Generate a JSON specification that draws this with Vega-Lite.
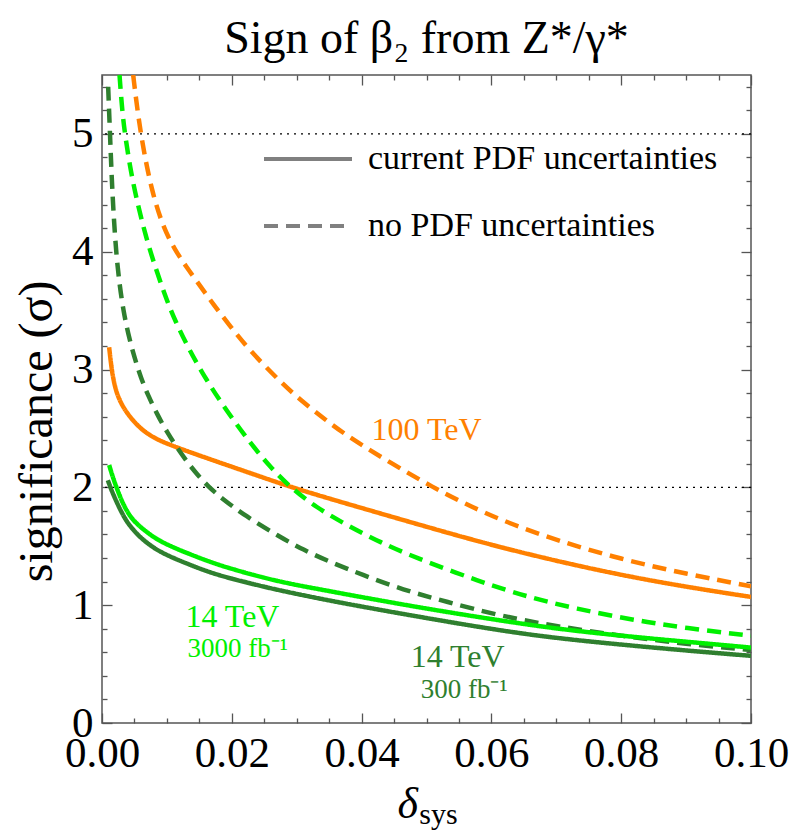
{
  "$schema": "https://vega.github.io/schema/vega-lite/v6.json",
  "width": 649,
  "height": 648,
  "autosize": {"type": "none"},
  "padding": {"left": 102, "top": 75, "right": 44, "bottom": 113},
  "background": "white",
  "config": {
    "font": "Liberation Serif",
    "view": {"stroke": "#555555", "strokeWidth": 1.5},
    "axis": {
      "domain": false,
      "grid": false,
      "labelFont": "Liberation Serif",
      "labelFontSize": 43,
      "labelColor": "black",
      "labelOverlap": false,
      "labelFlush": false,
      "tickColor": "#555555",
      "tickWidth": 1.3,
      "titleFont": "Liberation Serif",
      "titleFontWeight": "normal",
      "titleColor": "black"
    }
  },
  "title": {
    "text": "Sign of β₂ from Z*/γ*",
    "font": "Liberation Serif",
    "fontSize": 46,
    "fontWeight": "normal",
    "color": "black",
    "anchor": "middle",
    "frame": "group",
    "offset": 3
  },
  "datasets": {
    "refs": [{"sig": 2}, {"sig": 5}],
    "curves": [
      {"delta": 0.0011, "sig": 3.19, "series": "100 TeV", "pdf": "current PDF uncertainties"},
      {"delta": 0.0014, "sig": 3.04, "series": "100 TeV", "pdf": "current PDF uncertainties"},
      {"delta": 0.0017, "sig": 2.93, "series": "100 TeV", "pdf": "current PDF uncertainties"},
      {"delta": 0.0022, "sig": 2.81, "series": "100 TeV", "pdf": "current PDF uncertainties"},
      {"delta": 0.0028, "sig": 2.73, "series": "100 TeV", "pdf": "current PDF uncertainties"},
      {"delta": 0.0035, "sig": 2.66, "series": "100 TeV", "pdf": "current PDF uncertainties"},
      {"delta": 0.0045, "sig": 2.585, "series": "100 TeV", "pdf": "current PDF uncertainties"},
      {"delta": 0.0055, "sig": 2.525, "series": "100 TeV", "pdf": "current PDF uncertainties"},
      {"delta": 0.0066, "sig": 2.47, "series": "100 TeV", "pdf": "current PDF uncertainties"},
      {"delta": 0.0085, "sig": 2.405, "series": "100 TeV", "pdf": "current PDF uncertainties"},
      {"delta": 0.011, "sig": 2.35, "series": "100 TeV", "pdf": "current PDF uncertainties"},
      {"delta": 0.015, "sig": 2.27, "series": "100 TeV", "pdf": "current PDF uncertainties"},
      {"delta": 0.02, "sig": 2.175, "series": "100 TeV", "pdf": "current PDF uncertainties"},
      {"delta": 0.025, "sig": 2.08, "series": "100 TeV", "pdf": "current PDF uncertainties"},
      {"delta": 0.029, "sig": 2.005, "series": "100 TeV", "pdf": "current PDF uncertainties"},
      {"delta": 0.035, "sig": 1.905, "series": "100 TeV", "pdf": "current PDF uncertainties"},
      {"delta": 0.04, "sig": 1.825, "series": "100 TeV", "pdf": "current PDF uncertainties"},
      {"delta": 0.05, "sig": 1.665, "series": "100 TeV", "pdf": "current PDF uncertainties"},
      {"delta": 0.06, "sig": 1.51, "series": "100 TeV", "pdf": "current PDF uncertainties"},
      {"delta": 0.07, "sig": 1.375, "series": "100 TeV", "pdf": "current PDF uncertainties"},
      {"delta": 0.08, "sig": 1.255, "series": "100 TeV", "pdf": "current PDF uncertainties"},
      {"delta": 0.09, "sig": 1.155, "series": "100 TeV", "pdf": "current PDF uncertainties"},
      {"delta": 0.1, "sig": 1.07, "series": "100 TeV", "pdf": "current PDF uncertainties"},

      {"delta": 0.0048, "sig": 5.5, "series": "100 TeV", "pdf": "no PDF uncertainties"},
      {"delta": 0.0059, "sig": 5.0, "series": "100 TeV", "pdf": "no PDF uncertainties"},
      {"delta": 0.0077, "sig": 4.5, "series": "100 TeV", "pdf": "no PDF uncertainties"},
      {"delta": 0.0095, "sig": 4.2, "series": "100 TeV", "pdf": "no PDF uncertainties"},
      {"delta": 0.0112, "sig": 4.02, "series": "100 TeV", "pdf": "no PDF uncertainties"},
      {"delta": 0.013, "sig": 3.87, "series": "100 TeV", "pdf": "no PDF uncertainties"},
      {"delta": 0.015, "sig": 3.72, "series": "100 TeV", "pdf": "no PDF uncertainties"},
      {"delta": 0.0172, "sig": 3.55, "series": "100 TeV", "pdf": "no PDF uncertainties"},
      {"delta": 0.02, "sig": 3.35, "series": "100 TeV", "pdf": "no PDF uncertainties"},
      {"delta": 0.0228, "sig": 3.16, "series": "100 TeV", "pdf": "no PDF uncertainties"},
      {"delta": 0.0274, "sig": 2.9, "series": "100 TeV", "pdf": "no PDF uncertainties"},
      {"delta": 0.0305, "sig": 2.745, "series": "100 TeV", "pdf": "no PDF uncertainties"},
      {"delta": 0.0345, "sig": 2.57, "series": "100 TeV", "pdf": "no PDF uncertainties"},
      {"delta": 0.0382, "sig": 2.42, "series": "100 TeV", "pdf": "no PDF uncertainties"},
      {"delta": 0.045, "sig": 2.19, "series": "100 TeV", "pdf": "no PDF uncertainties"},
      {"delta": 0.051, "sig": 2.0, "series": "100 TeV", "pdf": "no PDF uncertainties"},
      {"delta": 0.056, "sig": 1.86, "series": "100 TeV", "pdf": "no PDF uncertainties"},
      {"delta": 0.0613, "sig": 1.725, "series": "100 TeV", "pdf": "no PDF uncertainties"},
      {"delta": 0.07, "sig": 1.55, "series": "100 TeV", "pdf": "no PDF uncertainties"},
      {"delta": 0.08, "sig": 1.39, "series": "100 TeV", "pdf": "no PDF uncertainties"},
      {"delta": 0.09, "sig": 1.265, "series": "100 TeV", "pdf": "no PDF uncertainties"},
      {"delta": 0.1, "sig": 1.16, "series": "100 TeV", "pdf": "no PDF uncertainties"},

      {"delta": 0.0027, "sig": 5.5, "series": "14 TeV 3000", "pdf": "no PDF uncertainties"},
      {"delta": 0.0031, "sig": 5.2, "series": "14 TeV 3000", "pdf": "no PDF uncertainties"},
      {"delta": 0.0036, "sig": 4.97, "series": "14 TeV 3000", "pdf": "no PDF uncertainties"},
      {"delta": 0.0045, "sig": 4.66, "series": "14 TeV 3000", "pdf": "no PDF uncertainties"},
      {"delta": 0.0056, "sig": 4.38, "series": "14 TeV 3000", "pdf": "no PDF uncertainties"},
      {"delta": 0.0068, "sig": 4.12, "series": "14 TeV 3000", "pdf": "no PDF uncertainties"},
      {"delta": 0.0082, "sig": 3.87, "series": "14 TeV 3000", "pdf": "no PDF uncertainties"},
      {"delta": 0.0097, "sig": 3.63, "series": "14 TeV 3000", "pdf": "no PDF uncertainties"},
      {"delta": 0.0112, "sig": 3.42, "series": "14 TeV 3000", "pdf": "no PDF uncertainties"},
      {"delta": 0.0136, "sig": 3.15, "series": "14 TeV 3000", "pdf": "no PDF uncertainties"},
      {"delta": 0.0161, "sig": 2.91, "series": "14 TeV 3000", "pdf": "no PDF uncertainties"},
      {"delta": 0.0192, "sig": 2.65, "series": "14 TeV 3000", "pdf": "no PDF uncertainties"},
      {"delta": 0.0228, "sig": 2.38, "series": "14 TeV 3000", "pdf": "no PDF uncertainties"},
      {"delta": 0.0258, "sig": 2.18, "series": "14 TeV 3000", "pdf": "no PDF uncertainties"},
      {"delta": 0.029, "sig": 2.0, "series": "14 TeV 3000", "pdf": "no PDF uncertainties"},
      {"delta": 0.033, "sig": 1.83, "series": "14 TeV 3000", "pdf": "no PDF uncertainties"},
      {"delta": 0.0377, "sig": 1.68, "series": "14 TeV 3000", "pdf": "no PDF uncertainties"},
      {"delta": 0.043, "sig": 1.53, "series": "14 TeV 3000", "pdf": "no PDF uncertainties"},
      {"delta": 0.048, "sig": 1.41, "series": "14 TeV 3000", "pdf": "no PDF uncertainties"},
      {"delta": 0.0582, "sig": 1.2, "series": "14 TeV 3000", "pdf": "no PDF uncertainties"},
      {"delta": 0.0656, "sig": 1.07, "series": "14 TeV 3000", "pdf": "no PDF uncertainties"},
      {"delta": 0.073, "sig": 0.97, "series": "14 TeV 3000", "pdf": "no PDF uncertainties"},
      {"delta": 0.0818, "sig": 0.875, "series": "14 TeV 3000", "pdf": "no PDF uncertainties"},
      {"delta": 0.09, "sig": 0.805, "series": "14 TeV 3000", "pdf": "no PDF uncertainties"},
      {"delta": 0.1, "sig": 0.74, "series": "14 TeV 3000", "pdf": "no PDF uncertainties"},

      {"delta": 0.00095, "sig": 5.4, "series": "14 TeV 300", "pdf": "no PDF uncertainties"},
      {"delta": 0.00123, "sig": 5.0, "series": "14 TeV 300", "pdf": "no PDF uncertainties"},
      {"delta": 0.0015, "sig": 4.62, "series": "14 TeV 300", "pdf": "no PDF uncertainties"},
      {"delta": 0.0018, "sig": 4.3, "series": "14 TeV 300", "pdf": "no PDF uncertainties"},
      {"delta": 0.0022, "sig": 3.98, "series": "14 TeV 300", "pdf": "no PDF uncertainties"},
      {"delta": 0.0027, "sig": 3.72, "series": "14 TeV 300", "pdf": "no PDF uncertainties"},
      {"delta": 0.0033, "sig": 3.5, "series": "14 TeV 300", "pdf": "no PDF uncertainties"},
      {"delta": 0.004, "sig": 3.31, "series": "14 TeV 300", "pdf": "no PDF uncertainties"},
      {"delta": 0.005, "sig": 3.1, "series": "14 TeV 300", "pdf": "no PDF uncertainties"},
      {"delta": 0.006, "sig": 2.93, "series": "14 TeV 300", "pdf": "no PDF uncertainties"},
      {"delta": 0.0071, "sig": 2.78, "series": "14 TeV 300", "pdf": "no PDF uncertainties"},
      {"delta": 0.0085, "sig": 2.62, "series": "14 TeV 300", "pdf": "no PDF uncertainties"},
      {"delta": 0.01, "sig": 2.47, "series": "14 TeV 300", "pdf": "no PDF uncertainties"},
      {"delta": 0.012, "sig": 2.3, "series": "14 TeV 300", "pdf": "no PDF uncertainties"},
      {"delta": 0.0143, "sig": 2.13, "series": "14 TeV 300", "pdf": "no PDF uncertainties"},
      {"delta": 0.0165, "sig": 2.0, "series": "14 TeV 300", "pdf": "no PDF uncertainties"},
      {"delta": 0.0184, "sig": 1.91, "series": "14 TeV 300", "pdf": "no PDF uncertainties"},
      {"delta": 0.022, "sig": 1.76, "series": "14 TeV 300", "pdf": "no PDF uncertainties"},
      {"delta": 0.0274, "sig": 1.58, "series": "14 TeV 300", "pdf": "no PDF uncertainties"},
      {"delta": 0.031, "sig": 1.47, "series": "14 TeV 300", "pdf": "no PDF uncertainties"},
      {"delta": 0.035, "sig": 1.37, "series": "14 TeV 300", "pdf": "no PDF uncertainties"},
      {"delta": 0.04, "sig": 1.26, "series": "14 TeV 300", "pdf": "no PDF uncertainties"},
      {"delta": 0.0464, "sig": 1.13, "series": "14 TeV 300", "pdf": "no PDF uncertainties"},
      {"delta": 0.053, "sig": 1.03, "series": "14 TeV 300", "pdf": "no PDF uncertainties"},
      {"delta": 0.0613, "sig": 0.91, "series": "14 TeV 300", "pdf": "no PDF uncertainties"},
      {"delta": 0.07, "sig": 0.82, "series": "14 TeV 300", "pdf": "no PDF uncertainties"},
      {"delta": 0.08, "sig": 0.74, "series": "14 TeV 300", "pdf": "no PDF uncertainties"},
      {"delta": 0.09, "sig": 0.67, "series": "14 TeV 300", "pdf": "no PDF uncertainties"},
      {"delta": 0.1, "sig": 0.62, "series": "14 TeV 300", "pdf": "no PDF uncertainties"},

      {"delta": 0.0011, "sig": 2.19, "series": "14 TeV 3000", "pdf": "current PDF uncertainties"},
      {"delta": 0.0017, "sig": 2.08, "series": "14 TeV 3000", "pdf": "current PDF uncertainties"},
      {"delta": 0.0023, "sig": 1.99, "series": "14 TeV 3000", "pdf": "current PDF uncertainties"},
      {"delta": 0.003, "sig": 1.89, "series": "14 TeV 3000", "pdf": "current PDF uncertainties"},
      {"delta": 0.0038, "sig": 1.8, "series": "14 TeV 3000", "pdf": "current PDF uncertainties"},
      {"delta": 0.0048, "sig": 1.72, "series": "14 TeV 3000", "pdf": "current PDF uncertainties"},
      {"delta": 0.006, "sig": 1.66, "series": "14 TeV 3000", "pdf": "current PDF uncertainties"},
      {"delta": 0.0075, "sig": 1.595, "series": "14 TeV 3000", "pdf": "current PDF uncertainties"},
      {"delta": 0.0089, "sig": 1.545, "series": "14 TeV 3000", "pdf": "current PDF uncertainties"},
      {"delta": 0.011, "sig": 1.49, "series": "14 TeV 3000", "pdf": "current PDF uncertainties"},
      {"delta": 0.013, "sig": 1.445, "series": "14 TeV 3000", "pdf": "current PDF uncertainties"},
      {"delta": 0.016, "sig": 1.38, "series": "14 TeV 3000", "pdf": "current PDF uncertainties"},
      {"delta": 0.0192, "sig": 1.32, "series": "14 TeV 3000", "pdf": "current PDF uncertainties"},
      {"delta": 0.025, "sig": 1.23, "series": "14 TeV 3000", "pdf": "current PDF uncertainties"},
      {"delta": 0.03, "sig": 1.17, "series": "14 TeV 3000", "pdf": "current PDF uncertainties"},
      {"delta": 0.035, "sig": 1.12, "series": "14 TeV 3000", "pdf": "current PDF uncertainties"},
      {"delta": 0.0398, "sig": 1.07, "series": "14 TeV 3000", "pdf": "current PDF uncertainties"},
      {"delta": 0.05, "sig": 0.97, "series": "14 TeV 3000", "pdf": "current PDF uncertainties"},
      {"delta": 0.0613, "sig": 0.87, "series": "14 TeV 3000", "pdf": "current PDF uncertainties"},
      {"delta": 0.07, "sig": 0.8, "series": "14 TeV 3000", "pdf": "current PDF uncertainties"},
      {"delta": 0.08, "sig": 0.74, "series": "14 TeV 3000", "pdf": "current PDF uncertainties"},
      {"delta": 0.09, "sig": 0.69, "series": "14 TeV 3000", "pdf": "current PDF uncertainties"},
      {"delta": 0.1, "sig": 0.64, "series": "14 TeV 3000", "pdf": "current PDF uncertainties"},

      {"delta": 0.0009, "sig": 2.06, "series": "14 TeV 300", "pdf": "current PDF uncertainties"},
      {"delta": 0.0015, "sig": 1.97, "series": "14 TeV 300", "pdf": "current PDF uncertainties"},
      {"delta": 0.0023, "sig": 1.87, "series": "14 TeV 300", "pdf": "current PDF uncertainties"},
      {"delta": 0.003, "sig": 1.79, "series": "14 TeV 300", "pdf": "current PDF uncertainties"},
      {"delta": 0.0038, "sig": 1.71, "series": "14 TeV 300", "pdf": "current PDF uncertainties"},
      {"delta": 0.0048, "sig": 1.64, "series": "14 TeV 300", "pdf": "current PDF uncertainties"},
      {"delta": 0.006, "sig": 1.57, "series": "14 TeV 300", "pdf": "current PDF uncertainties"},
      {"delta": 0.0075, "sig": 1.505, "series": "14 TeV 300", "pdf": "current PDF uncertainties"},
      {"delta": 0.0089, "sig": 1.455, "series": "14 TeV 300", "pdf": "current PDF uncertainties"},
      {"delta": 0.011, "sig": 1.4, "series": "14 TeV 300", "pdf": "current PDF uncertainties"},
      {"delta": 0.013, "sig": 1.355, "series": "14 TeV 300", "pdf": "current PDF uncertainties"},
      {"delta": 0.016, "sig": 1.29, "series": "14 TeV 300", "pdf": "current PDF uncertainties"},
      {"delta": 0.0192, "sig": 1.235, "series": "14 TeV 300", "pdf": "current PDF uncertainties"},
      {"delta": 0.025, "sig": 1.155, "series": "14 TeV 300", "pdf": "current PDF uncertainties"},
      {"delta": 0.03, "sig": 1.095, "series": "14 TeV 300", "pdf": "current PDF uncertainties"},
      {"delta": 0.035, "sig": 1.04, "series": "14 TeV 300", "pdf": "current PDF uncertainties"},
      {"delta": 0.0398, "sig": 0.99, "series": "14 TeV 300", "pdf": "current PDF uncertainties"},
      {"delta": 0.05, "sig": 0.89, "series": "14 TeV 300", "pdf": "current PDF uncertainties"},
      {"delta": 0.0613, "sig": 0.785, "series": "14 TeV 300", "pdf": "current PDF uncertainties"},
      {"delta": 0.07, "sig": 0.72, "series": "14 TeV 300", "pdf": "current PDF uncertainties"},
      {"delta": 0.08, "sig": 0.665, "series": "14 TeV 300", "pdf": "current PDF uncertainties"},
      {"delta": 0.09, "sig": 0.615, "series": "14 TeV 300", "pdf": "current PDF uncertainties"},
      {"delta": 0.1, "sig": 0.57, "series": "14 TeV 300", "pdf": "current PDF uncertainties"}
    ],
    "labels": [
      {"delta": 0.05, "sig": 2.4, "text": "100 TeV", "series": "100 TeV", "kind": "energy"},
      {"delta": 0.0201, "sig": 0.815, "text": "14 TeV", "series": "14 TeV 3000", "kind": "energy"},
      {"delta": 0.0209, "sig": 0.563, "text": "3000 fb⁻¹", "series": "14 TeV 3000", "kind": "lumi"},
      {"delta": 0.0548, "sig": 0.475, "text": "14 TeV", "series": "14 TeV 300", "kind": "energy"},
      {"delta": 0.0558, "sig": 0.21, "text": "300 fb⁻¹", "series": "14 TeV 300", "kind": "lumi"}
    ],
    "xtitle": [
      {"delta": 0.0487, "sig": -0.81, "text": "δ", "part": "symbol"},
      {"delta": 0.0489, "sig": -0.86, "text": "sys", "part": "sub"}
    ]
  },
  "layer": [
    {
      "data": {"name": "refs"},
      "mark": {"type": "rule", "color": "black", "strokeDash": [2, 5], "strokeWidth": 1.3},
      "encoding": {
        "y": {"field": "sig", "type": "quantitative", "scale": {"domain": [0, 5.5], "nice": false, "zero": false}, "axis": null}
      }
    },
    {
      "data": {"name": "curves"},
      "mark": {"type": "line", "strokeWidth": 4.5, "interpolate": "basis", "clip": true},
      "encoding": {
        "x": {
          "field": "delta", "type": "quantitative",
          "scale": {"domain": [0, 0.1], "nice": false, "zero": false},
          "axis": {
            "orient": "bottom",
            "title": null,
            "values": [0, 0.005, 0.01, 0.015, 0.02, 0.025, 0.03, 0.035, 0.04, 0.045, 0.05, 0.055, 0.06, 0.065, 0.07, 0.075, 0.08, 0.085, 0.09, 0.095, 0.1],
            "labelExpr": "abs(datum.value*50 - round(datum.value*50)) < 0.01 ? format(datum.value, '.2f') : ''",
            "tickSize": {"condition": {"test": "abs(datum.value*50 - round(datum.value*50)) < 0.01", "value": -10}, "value": -5},
            "labelPadding": 19
          }
        },
        "y": {
          "field": "sig", "type": "quantitative",
          "scale": {"domain": [0, 5.5], "nice": false, "zero": false},
          "axis": {
            "orient": "left",
            "title": "significance (σ)",
            "titleFontSize": 48,
            "titlePadding": 10,
            "titleY": 356,
            "values": [0, 0.2, 0.4, 0.6, 0.8, 1, 1.2, 1.4, 1.6, 1.8, 2, 2.2, 2.4, 2.6, 2.8, 3, 3.2, 3.4, 3.6, 3.8, 4, 4.2, 4.4, 4.6, 4.8, 5, 5.2, 5.4],
            "labelExpr": "abs(datum.value - round(datum.value)) < 0.01 ? format(datum.value, 'd') : ''",
            "tickSize": {"condition": {"test": "abs(datum.value - round(datum.value)) < 0.01", "value": -10}, "value": -5},
            "labelPadding": 19
          }
        },
        "color": {
          "field": "series", "type": "nominal",
          "scale": {"domain": ["100 TeV", "14 TeV 3000", "14 TeV 300"], "range": ["#FF8000", "#00F000", "#2F7F2F"]},
          "legend": null
        },
        "strokeDash": {
          "field": "pdf", "type": "nominal",
          "scale": {"domain": ["current PDF uncertainties", "no PDF uncertainties"], "range": [[1, 0], [14, 8]]},
          "legend": {
            "title": null,
            "orient": "none",
            "legendX": 182,
            "legendY": 60,
            "padding": 0,
            "symbolType": "M-2,0H2",
            "symbolSize": 1936,
            "symbolStrokeWidth": 4,
            "symbolStrokeColor": "#808080",
            "symbolFillColor": "transparent",
            "labelFont": "Liberation Serif",
            "labelFontSize": 34,
            "labelColor": "black",
            "labelOffset": 36,
            "rowPadding": 26,
            "labelLimit": 600,
            "encode": {"symbols": {"update": {"stroke": {"value": "#808080"}, "strokeWidth": {"value": 4}}}}
          }
        }
      }
    },
    {
      "data": {"name": "labels"},
      "transform": [{"filter": "datum.kind === 'energy'"}],
      "mark": {"type": "text", "font": "Liberation Serif", "fontSize": 32, "align": "center", "baseline": "alphabetic"},
      "encoding": {
        "x": {
          "field": "delta", "type": "quantitative",
          "scale": {"domain": [0, 0.1], "nice": false, "zero": false},
          "axis": {
            "orient": "top", "title": null, "labels": false,
            "values": [0, 0.005, 0.01, 0.015, 0.02, 0.025, 0.03, 0.035, 0.04, 0.045, 0.05, 0.055, 0.06, 0.065, 0.07, 0.075, 0.08, 0.085, 0.09, 0.095, 0.1],
            "tickSize": {"condition": {"test": "abs(datum.value*50 - round(datum.value*50)) < 0.01", "value": -10}, "value": -5}
          }
        },
        "y": {
          "field": "sig", "type": "quantitative",
          "scale": {"domain": [0, 5.5], "nice": false, "zero": false},
          "axis": {
            "orient": "right", "title": null, "labels": false,
            "values": [0, 0.2, 0.4, 0.6, 0.8, 1, 1.2, 1.4, 1.6, 1.8, 2, 2.2, 2.4, 2.6, 2.8, 3, 3.2, 3.4, 3.6, 3.8, 4, 4.2, 4.4, 4.6, 4.8, 5, 5.2, 5.4],
            "tickSize": {"condition": {"test": "abs(datum.value - round(datum.value)) < 0.01", "value": -10}, "value": -5}
          }
        },
        "text": {"field": "text"},
        "color": {"field": "series", "type": "nominal", "scale": {"domain": ["100 TeV", "14 TeV 3000", "14 TeV 300"], "range": ["#FF8000", "#00F000", "#2F7F2F"]}, "legend": null}
      }
    },
    {
      "data": {"name": "labels"},
      "transform": [{"filter": "datum.kind === 'lumi'"}],
      "mark": {"type": "text", "font": "Liberation Serif", "fontSize": 27, "align": "center", "baseline": "alphabetic"},
      "encoding": {
        "x": {"field": "delta", "type": "quantitative", "scale": {"domain": [0, 0.1], "nice": false, "zero": false}, "axis": null},
        "y": {"field": "sig", "type": "quantitative", "scale": {"domain": [0, 5.5], "nice": false, "zero": false}, "axis": null},
        "text": {"field": "text"},
        "color": {"field": "series", "type": "nominal", "scale": {"domain": ["100 TeV", "14 TeV 3000", "14 TeV 300"], "range": ["#FF8000", "#00F000", "#2F7F2F"]}, "legend": null}
      }
    },
    {
      "data": {"name": "xtitle"},
      "transform": [{"filter": "datum.part === 'symbol'"}],
      "mark": {"type": "text", "font": "Liberation Serif", "fontSize": 44, "fontStyle": "italic", "align": "right", "baseline": "alphabetic", "color": "black"},
      "encoding": {
        "x": {"field": "delta", "type": "quantitative", "scale": {"domain": [0, 0.1], "nice": false, "zero": false}, "axis": null},
        "y": {"field": "sig", "type": "quantitative", "scale": {"domain": [0, 5.5], "nice": false, "zero": false}, "axis": null},
        "text": {"field": "text"}
      }
    },
    {
      "data": {"name": "xtitle"},
      "transform": [{"filter": "datum.part === 'sub'"}],
      "mark": {"type": "text", "font": "Liberation Serif", "fontSize": 30, "align": "left", "baseline": "alphabetic", "color": "black"},
      "encoding": {
        "x": {"field": "delta", "type": "quantitative", "scale": {"domain": [0, 0.1], "nice": false, "zero": false}, "axis": null},
        "y": {"field": "sig", "type": "quantitative", "scale": {"domain": [0, 5.5], "nice": false, "zero": false}, "axis": null},
        "text": {"field": "text"}
      }
    }
  ],
  "resolve": {"axis": {"x": "independent", "y": "independent"}}
}
